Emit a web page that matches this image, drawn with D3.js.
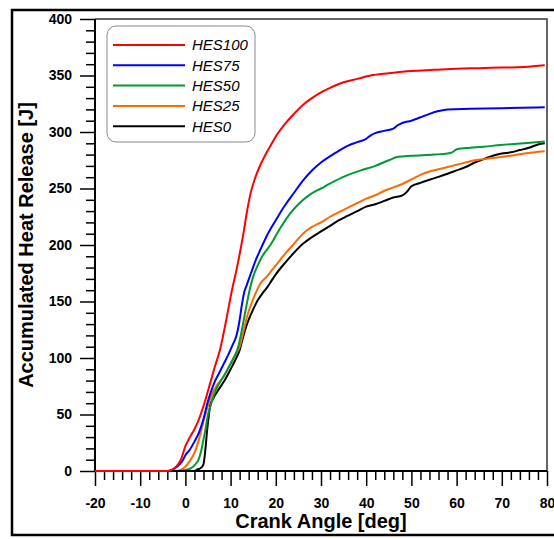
<!DOCTYPE html>
<html>
<head>
<meta charset="utf-8">
<script src="https://cdn.jsdelivr.net/npm/d3@7"></script>
<style>
html,body{margin:0;padding:0;background:#fff;overflow:hidden;}
svg{display:block;}
text{font-family:"Liberation Sans",Arial,sans-serif;}
</style>
</head>
<body>
<svg id="chart" width="554" height="539"></svg>
<script>
// ---- data (crank angle [deg], accumulated heat release [J]) ----
const seriesNames = ["HES100","HES75","HES50","HES25","HES0"];
const seriesColors = ["#ff0000","#0000ff","#009933","#ff6a00","#000000"];

const hes100 = [[-20,0],[-4,0],[-3,1],[-2,4],[-1,10],[0,22],[1,30],[2,37],[3,46],[4.2,60],[5.5,78],[6.5,92],[7.7,108],[9,133],[10.3,160],[11.3,178],[12.2,196],[13,214],[13.6,229],[14.5,247],[15.5,260],[16.6,271],[18,282],[19,289],[20,296],[22,307],[24,316],[26,324],[28,330],[30,335],[32,339],[35,344],[38,347],[41,350],[45,352],[50,354],[55,355],[60,356],[65,356.5],[70,357],[75,357.5],[79.5,359]];
const hes75 = [[-20,0],[-3.5,0],[-2.5,2],[-1.5,5],[-0.5,10],[0,14],[1,19],[2,26],[3,34],[4,46],[5,62],[6,74],[6.6,80],[7.5,87],[8.5,95],[9.5,103],[10.5,112],[11.3,120],[11.8,129],[12.5,147],[13,158],[13.6,165],[14.5,175],[15.5,186],[16.6,196],[18,208],[20,222],[22,235],[24,246],[26,257],[28,266],[30,273],[33,281],[36,288],[38,291],[40,294],[41,297],[42,299],[44,301],[46,303],[47,306],[48,308],[50,310],[52,313],[54,316],[56,318.5],[58,320],[63,320.5],[70,321],[79.5,322]];
const hes50 = [[-20,0],[-1.5,0],[0,1],[1,2],[2,5],[3,11],[3.5,18],[4,28],[4.4,36],[5,50],[5.5,57],[6.2,66],[7,74],[8,81],[9.2,89],[10.5,99],[11.7,110],[12.5,125],[13.3,142],[14.2,160],[15,172],[16,182],[17,190],[18.8,200],[21,215],[23.2,228],[25.5,238],[27.7,245],[30,250],[32.8,256],[36,262],[38.8,266],[42,270],[45,275],[47,278],[50,279],[55,280],[58,281],[59,282],[60.2,285],[63,286],[66,287],[69.8,288.5],[75,290],[79.5,291.5]];
const hes25 = [[-20,0],[-2,0],[-1,1],[0,4],[1,9],[2,16],[3,28],[4,44],[5,58],[6,69],[7,76],[8.4,83],[10,95],[11,102],[12,110],[13,126],[13.6,136],[14.5,147],[15.5,157],[16.6,166],[18,172],[19,177],[20,182],[22,192],[24,201],[26,210],[28,216],[30,220],[32,225],[34,229],[36,233],[38,237],[40,241],[42,244],[44,248],[46,251],[48,254],[50,258],[52,262],[54,265],[56,267],[58,269],[60,271],[62,273],[64,275],[66,276],[68,277],[70,278],[72,279],[75,281],[79.5,283]];
const hes0 = [[-20,0],[2,0],[2.5,1],[3.5,3],[4,6],[4.4,18],[4.8,36],[5.2,50],[5.5,58],[6,63],[7,70],[8,76],[8.8,81],[10,90],[11,98],[12,107],[12.6,116],[13.3,126],[14,134],[15,143],[16,151],[17,157],[18,162],[19,168],[20,174],[22,184],[24,193],[26,201],[28,207],[30,212],[32,217],[34,222],[36,226],[38,230],[40,234],[42,236],[44,239],[46,242],[48,244],[49,247],[50,252],[52,255],[55,259],[58,263],[60,266],[62,269],[64,273],[66,276],[68,279],[70,281],[72,282],[74,284],[76,286],[78,289],[79.5,290]];

const xMajorTicks = [-20,-10,0,10,20,30,40,50,60,70,80];
const yMajorTicks = [0,50,100,150,200,250,300,350,400];
const xTitle = "Crank Angle [deg]";
const yTitle = "Accumulated Heat Release [J]";

// ---- drawing ----
const svg = d3.select("#chart");
const L = 95, R = 547, T = 19, B = 471;
const x = d3.scaleLinear().domain([-20,80]).range([L,R]);
const y = d3.scaleLinear().domain([0,400]).range([B,T]);

// outer frame (right side runs off the picture)
svg.append("path").attr("d","M600,10H12V535H600")
  .attr("fill","none").attr("stroke","#000").attr("stroke-width",2.5);

// plot box top/right
svg.append("path").attr("d",`M${L},${T}H${R}V${B}`)
  .attr("fill","none").attr("stroke","#333").attr("stroke-width",1.5);

const fontTick = "bold 14px 'Liberation Sans', Arial, sans-serif";

// minor ticks
const xMinor = d3.range(-20,80.001,2).filter(v=>v%10!==0);
const yMinor = d3.range(0,400.001,10).filter(v=>v%50!==0);

const gxMinor = svg.append("g").attr("transform",`translate(0,${B})`)
  .call(d3.axisBottom(x).tickValues(xMinor).tickSize(9).tickFormat(""));
const gyMinor = svg.append("g").attr("transform",`translate(${L},0)`)
  .call(d3.axisLeft(y).tickValues(yMinor).tickSize(9).tickFormat(""));

const gx = svg.append("g").attr("transform",`translate(0,${B})`)
  .call(d3.axisBottom(x).tickValues(xMajorTicks).tickSize(15).tickPadding(12).tickFormat(d=>String(d)));
const gy = svg.append("g").attr("transform",`translate(${L},0)`)
  .call(d3.axisLeft(y).tickValues(yMajorTicks).tickSize(15).tickPadding(8).tickFormat(d=>String(d)));

[gxMinor,gyMinor,gx,gy].forEach(g=>{
  g.select(".domain").remove();
  g.selectAll(".tick line").attr("stroke","#000").attr("stroke-width",1.5);
});
[gx,gy].forEach(g=>{
  g.selectAll(".tick text").style("font",fontTick).attr("fill","#000");
});

// curves
const line = d3.line().x(d=>x(d[0])).y(d=>y(d[1])).curve(d3.curveMonotoneX);
const allSeries = [hes100,hes75,hes50,hes25,hes0];
const drawOrder = [4,3,2,1,0];
drawOrder.forEach(i=>{
  svg.append("path").datum(allSeries[i]).attr("d",line)
    .attr("fill","none").attr("stroke",seriesColors[i]).attr("stroke-width",2)
    .attr("stroke-linejoin","round");
});

// axis lines (left, bottom)
svg.append("path").attr("d",`M${L},${T}V${B}H${R}`)
  .attr("fill","none").attr("stroke","#000").attr("stroke-width",2);
// red baseline on top (as in reference)
svg.append("path").datum(hes100.filter(d=>d[0]<=-3)).attr("d",line)
  .attr("fill","none").attr("stroke",seriesColors[0]).attr("stroke-width",2);

// legend
const lg = svg.append("g");
lg.append("rect").attr("x",107).attr("y",26).attr("width",148).attr("height",116)
  .attr("rx",9).attr("fill","#fff").attr("stroke","#888").attr("stroke-width",1);
seriesNames.forEach((n,i)=>{
  const yy = 45 + i*20.3;
  lg.append("line").attr("x1",113).attr("x2",185).attr("y1",yy).attr("y2",yy)
    .attr("stroke",seriesColors[i]).attr("stroke-width",2);
  lg.append("text").attr("x",192).attr("y",yy).attr("dy","0.36em")
    .style("font","italic 15px 'Liberation Sans', Arial, sans-serif").attr("fill","#000").text(n);
});

// axis titles
svg.append("text").attr("x",(L+R)/2).attr("y",528).attr("text-anchor","middle")
  .style("font","bold 20px 'Liberation Sans', Arial, sans-serif").text(xTitle);
svg.append("text").attr("transform",`translate(33,${(T+B)/2}) rotate(-90)`).attr("text-anchor","middle")
  .style("font","bold 20px 'Liberation Sans', Arial, sans-serif").text(yTitle);
</script>
</body>
</html>
